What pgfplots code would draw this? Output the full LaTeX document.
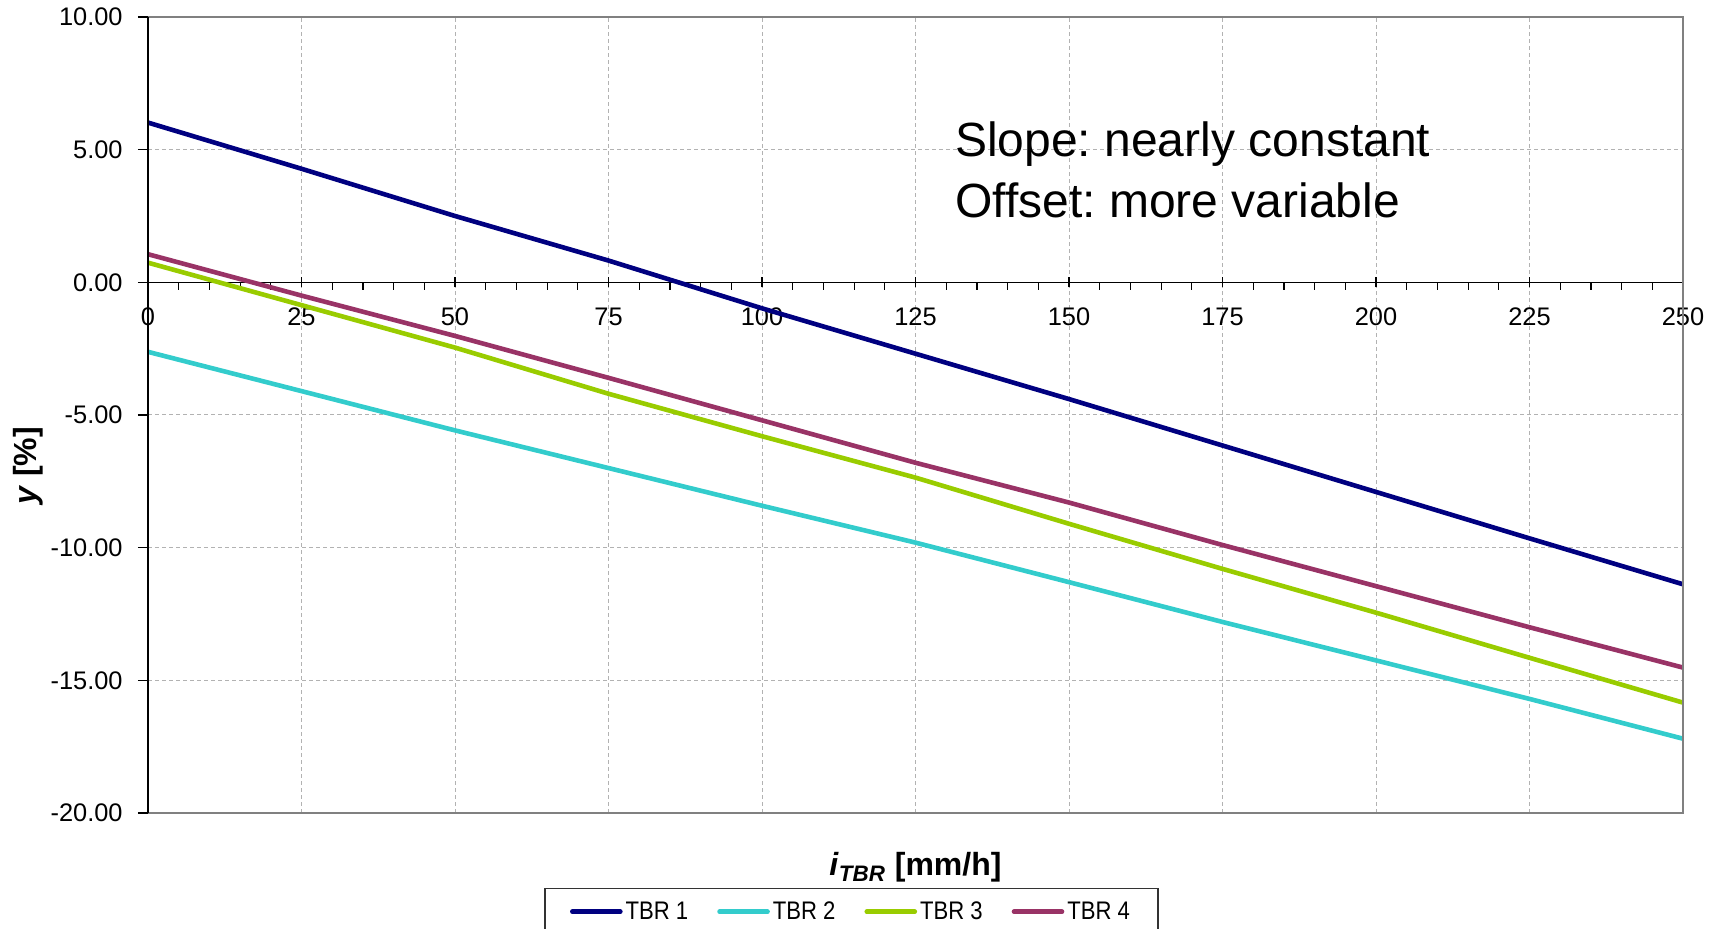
\documentclass[border=0pt]{standalone}
\usepackage{fontspec}
\setmainfont{Liberation Sans}
\newfontfamily\narrowfont[FakeStretch=0.87]{Liberation Sans}
\usepackage{pgfplots}
\pgfplotsset{compat=1.18}
\definecolor{tbrA}{RGB}{0,0,128}
\definecolor{tbrB}{RGB}{51,204,204}
\definecolor{tbrC}{RGB}{153,204,0}
\definecolor{tbrD}{RGB}{153,51,102}
\frenchspacing
\begin{document}
\begin{tikzpicture}
\begin{axis}[
  scale only axis,
  width=767.5pt, height=398pt,
  xmin=0, xmax=250, ymin=-20, ymax=10,
  axis x line=middle, axis y line=left,
  axis line style={-, black, line width=0.7pt},
  hide obscured x ticks=false,
  xtick={0,25,...,250}, ytick={-20,-15,...,10},
  minor x tick num=4,
  xtick align=center, ytick align=outside,
  major tick length=5pt, minor tick length=3.75pt,
  minor x tick style={yshift=-1.875pt},
  tick style={black, line width=0.6pt},
  grid=major,
  major grid style={gray!60, dash pattern=on 2pt off 1.5pt, line width=0.5pt},
  /pgf/number format/assume math mode=true,
  yticklabel style={/pgf/number format/fixed, /pgf/number format/zerofill, /pgf/number format/precision=2, font=\fontsize{12.7}{14}\selectfont, inner sep=0pt, anchor=east, xshift=-7.5pt},
  xticklabel style={font=\fontsize{12.7}{14}\selectfont, inner sep=0pt, anchor=north, yshift=-10pt},
  xlabel={\textbf{\textit{i}}\textsubscript{\textbf{\textit{TBR}}} \textbf{[mm/h]}},
  every axis x label/.style={at={(axis description cs:0.5,0)}, anchor=base, yshift=-31.5pt, font=\fontsize{16}{18}\selectfont},
  ylabel={\textbf{\textit{y}} \textbf{[\%]}},
  every axis y label/.style={at={(axis description cs:0,0.436)}, rotate=90, anchor=center, yshift=59.75pt, font=\fontsize{16}{18}\selectfont},
  legend columns=4,
  legend style={at={(axis description cs:0.4583,-0.094)}, anchor=north, draw=black!80, line width=0.6pt,
    font=\narrowfont\fontsize{12.7}{14}\selectfont, inner xsep=12.5pt, inner ysep=5pt,
    /tikz/every even column/.append style={column sep=13pt},
    nodes={inner sep=1.5pt}},
  legend image code/.code={\draw[#1, line width=2.3pt, line cap=round] (0pt,0pt) -- (24pt,0pt);},
  clip=false,
]
\addplot[tbrA, line width=2.3pt] coordinates {
 (0,6.02) (25,4.28) (50,2.50) (75,0.82) (100,-0.98) (125,-2.69) (150,-4.40) (175,-6.15) (200,-7.90) (225,-9.65) (250,-11.38)};
\addlegendentry{TBR 1}
\addplot[tbrB, line width=2.3pt] coordinates {
 (0,-2.62) (25,-4.10) (50,-5.58) (75,-7.00) (100,-8.42) (125,-9.81) (150,-11.30) (175,-12.80) (200,-14.25) (225,-15.70) (250,-17.20)};
\addlegendentry{TBR 2}
\addplot[tbrC, line width=2.3pt] coordinates {
 (0,0.74) (25,-0.86) (50,-2.46) (75,-4.20) (100,-5.80) (125,-7.36) (150,-9.10) (175,-10.80) (200,-12.45) (225,-14.15) (250,-15.84)};
\addlegendentry{TBR 3}
\addplot[tbrD, line width=2.3pt] coordinates {
 (0,1.06) (25,-0.50) (50,-2.02) (75,-3.60) (100,-5.20) (125,-6.80) (150,-8.30) (175,-9.90) (200,-11.45) (225,-13.00) (250,-14.52)};
\addlegendentry{TBR 4}
\draw[gray, line width=1pt] (rel axis cs:0,0) -- (rel axis cs:1,0) -- (rel axis cs:1,1) -- (rel axis cs:0,1);
\draw[black, line width=0.7pt] (rel axis cs:0,0) -- (rel axis cs:0,1);
\node[anchor=base west, inner sep=0pt, font=\fontsize{24}{29}\selectfont] at (axis cs:131.4,4.75) {Slope: nearly constant};
\node[anchor=base west, inner sep=0pt, font=\fontsize{24}{29}\selectfont] at (axis cs:131.4,2.45) {Offset: more variable};
\coordinate (bl) at (rel axis cs:0,0);
\coordinate (tr) at (rel axis cs:1,1);
\end{axis}
\pgfresetboundingbox
\path[use as bounding box] ([shift={(-74pt,-58pt)}]bl) rectangle ([shift={(16.5pt,8.5pt)}]tr);
\end{tikzpicture}
\end{document}
